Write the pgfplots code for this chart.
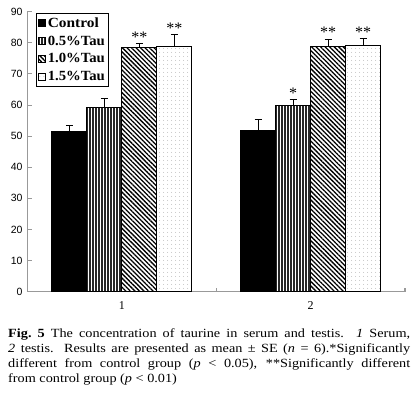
\documentclass[border=0pt]{standalone}
\usepackage{pgfplots}
\pgfplotsset{compat=1.18}
\usetikzlibrary{patterns.meta}
\usepackage{fontspec}
\setmainfont{Liberation Serif}
\newfontfamily\sansf{Liberation Sans}

\pgfplotstableread{
x  ctrl  ctrlE  t05  t05E  t10  t10E  t15  t15E
0  51.6  1.7    59.1 3.0   78.4 1.3   78.8 3.8
1  51.9  3.5    59.7 2.1   78.8 2.1   79.2 2.0
}\data

\begin{document}
\begin{tikzpicture}
\useasboundingbox (-27.5pt,-104.3pt) rectangle (389.5pt,291.7pt);
\begin{axis}[
  at={(0pt,0pt)}, anchor=south west,
  scale only axis, width=377.5pt, height=280.2pt,
  xmin=-0.5, xmax=1.5, ymin=0, ymax=90,
  axis x line*=bottom, axis y line*=left,
  axis line style={gray!80, line width=1.2pt, -},
  ybar=0pt, bar width=35pt,
  ytick={0,10,...,90},
  xtick={0,1}, xticklabels={1,2},
  x tick style={draw=none},
  extra x ticks={0.5,1.5}, extra x tick labels={},
  extra x tick style={x tick style={draw=gray!80, line width=1.2pt}},
  tick align=inside, major tick length=4pt,
  y tick style={draw=gray!80, line width=0.8pt},
  /pgf/number format/assume math mode=true,
  yticklabel style={font=\sansf\fontsize{10.5}{12}\selectfont, xshift=-1.5pt},
  xticklabel style={font=\fontsize{12}{14}\selectfont, yshift=-6pt},
  legend image code/.code={\draw[#1, draw=black, line width=0.8pt] (0pt,-3.5pt) rectangle (7pt,3.5pt);},
  legend style={at={(0.0225,0.9946)}, anchor=north west, draw=black, line width=1pt,
    font=\bfseries\fontsize{14}{16}\selectfont, inner xsep=1.5pt, inner ysep=2pt,
    row sep=3pt, cells={anchor=west},
    /tikz/every odd column/.append style={column sep=0pt}},
  clip=false,
]
\addplot[fill=black, draw=black, line width=0.8pt,
  error bars/.cd, y dir=plus, y explicit,
  error bar style={black, line width=1.2pt},
  error mark options={black, line width=1.2pt, mark size=3.5pt, rotate=90}]
  table[x=x, y=ctrl, y error=ctrlE]{\data};
\addplot[pattern={Lines[angle=90, distance=3pt, line width=1.2pt]}, pattern color=black!85, draw=black, line width=0.8pt,
  error bars/.cd, y dir=plus, y explicit,
  error bar style={black, line width=1.2pt},
  error mark options={black, line width=1.2pt, mark size=3.5pt, rotate=90}]
  table[x=x, y=t05, y error=t05E]{\data};
\addplot[pattern={Lines[angle=-45, distance=3.2pt, line width=1.3pt]}, pattern color=black, draw=black, line width=0.8pt,
  error bars/.cd, y dir=plus, y explicit,
  error bar style={black, line width=1.2pt},
  error mark options={black, line width=1.2pt, mark size=3.5pt, rotate=90}]
  table[x=x, y=t10, y error=t10E]{\data};
\addplot[pattern={Dots[distance=4pt, radius=0.55pt]}, pattern color=gray!70, draw=black, line width=0.8pt,
  error bars/.cd, y dir=plus, y explicit,
  error bar style={black, line width=1.2pt},
  error mark options={black, line width=1.2pt, mark size=3.5pt, rotate=90}]
  table[x=x, y=t15, y error=t15E]{\data};
\legend{\scalebox{1.1}[1]{Control}, \scalebox{1.05}[1]{0.5\%Tau}, \scalebox{1.05}[1]{1.0\%Tau}, \scalebox{1.05}[1]{1.5\%Tau}}
\begin{scope}[every node/.style={font=\fontsize{16}{18}\selectfont, inner sep=0pt}]
\node at ([xshift=17.5pt]axis cs:0,81.8) {**};
\node at ([xshift=52.5pt]axis cs:0,84.7) {**};
\node at ([xshift=-17.5pt]axis cs:1,63.8) {*};
\node at ([xshift=17.5pt]axis cs:1,83.3) {**};
\node at ([xshift=52.5pt]axis cs:1,83.3) {**};
\end{scope}
\end{axis}
\node[anchor=north west, inner sep=0pt, xscale=1.14, transform shape, text width=352.6pt, align=justify,
  font=\fontsize{12.5}{15}\selectfont] at (-19.5pt,-37pt)
  {\textbf{Fig.~5} The concentration of taurine in serum and testis. \textit{1} Serum,\linebreak
   \textit{2} testis. Results are presented as mean ± SE (\textit{n} = 6).*Significantly\linebreak
   different from control group (\textit{p} < 0.05), **Significantly different\linebreak
   from control group (\textit{p} < 0.01)};
\end{tikzpicture}
\end{document}
